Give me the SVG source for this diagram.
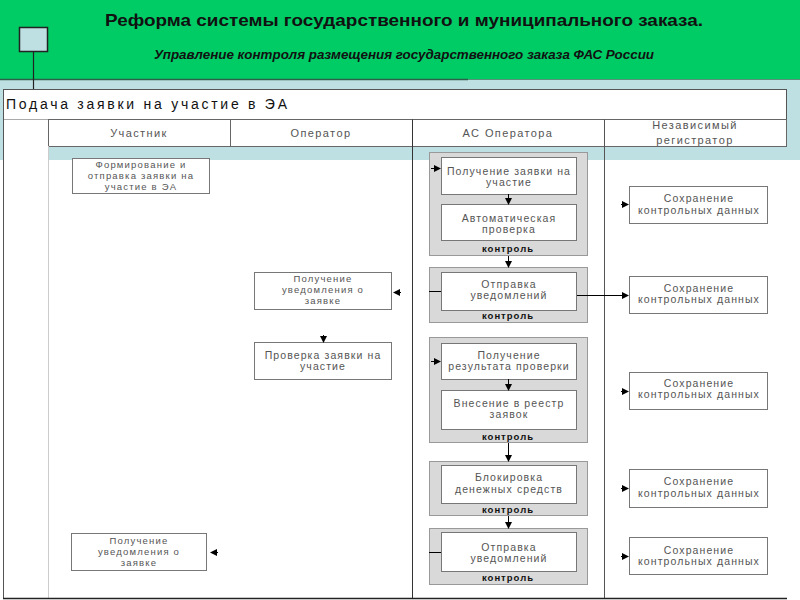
<svg xmlns="http://www.w3.org/2000/svg" width="800" height="600" viewBox="0 0 800 600">
<defs>
<marker id="ah" markerWidth="7" markerHeight="7" refX="6" refY="3.5" orient="auto" markerUnits="userSpaceOnUse">
<path d="M0,0 L7,3.5 L0,7 Z" fill="#000"/>
</marker>
<style>
.bx{fill:#fff;stroke:#777;stroke-width:1}
.ct{fill:#d9d9d9;stroke:#999;stroke-width:1}
.t{font-family:"Liberation Sans",Arial,sans-serif;font-size:10.5px;fill:#555;letter-spacing:1.1px;text-anchor:middle}
.t3{font-family:"Liberation Sans",Arial,sans-serif;font-size:9.5px;fill:#555;letter-spacing:1.2px;text-anchor:middle}
.h{font-family:"Liberation Sans",Arial,sans-serif;font-size:11px;fill:#555;letter-spacing:1.4px;text-anchor:middle}
.k{font-family:"Liberation Sans",Arial,sans-serif;font-size:9.5px;font-weight:bold;fill:#111;letter-spacing:1px;text-anchor:middle}
.ln{stroke:#000;stroke-width:1;fill:none}
.ar{stroke:#000;stroke-width:1;fill:none;marker-end:url(#ah)}
</style>
</defs>
<!-- background -->
<rect x="0" y="0" width="800" height="600" fill="#fff"/>
<rect x="0" y="0" width="800" height="79" fill="#00cc66"/>
<rect x="0" y="79" width="800" height="81" fill="#bfe0e3"/>
<line x1="0" y1="79.5" x2="800" y2="79.5" stroke="#5a8f7a" stroke-width="1"/>
<line x1="0" y1="79.5" x2="468" y2="79.5" stroke="#2f5f4a" stroke-width="1.5"/>
<text x="404" y="26" font-family="Liberation Sans,Arial,sans-serif" font-size="17" font-weight="bold" fill="#111" text-anchor="middle" textLength="598" lengthAdjust="spacingAndGlyphs">Реформа системы государственного и муниципального заказа.</text>
<text x="404" y="59" font-family="Liberation Sans,Arial,sans-serif" font-size="12" font-weight="bold" font-style="italic" fill="#111" text-anchor="middle" textLength="500" lengthAdjust="spacingAndGlyphs">Управление контроля размещения государственного заказа ФАС России</text>
<g id="marker-square">
<rect x="19.5" y="27.5" width="28" height="24" fill="#bfe0e3" stroke="#222" stroke-width="1.5"/>
<line x1="33.5" y1="52" x2="33.5" y2="89" stroke="#222" stroke-width="1.2"/>
</g>
<!-- table -->
<g id="table">
<rect x="3.5" y="89.5" width="783" height="30" fill="#fff" stroke="#555"/>
<text x="6" y="109" font-family="Liberation Sans,Arial,sans-serif" font-size="14" fill="#111" textLength="281" lengthAdjust="spacing">Подача заявки на участие в ЭА</text>
<rect x="3.5" y="119.5" width="45" height="478" fill="#fff" stroke="none"/>
<rect x="48.5" y="119.5" width="738" height="27" fill="#fff" stroke="#666"/>
<rect x="48" y="160" width="752" height="438" fill="#fff"/>
<line x1="230.5" y1="119.5" x2="230.5" y2="146.5" stroke="#666"/>
<line x1="412.5" y1="119.5" x2="412.5" y2="598" stroke="#333"/>
<line x1="604.5" y1="119.5" x2="604.5" y2="598" stroke="#555"/>
<line x1="48.5" y1="146" x2="48.5" y2="598" stroke="#ccc"/>
<line x1="3.5" y1="119" x2="3.5" y2="598" stroke="#555"/>
<line x1="3" y1="598.5" x2="787" y2="598.5" stroke="#222" stroke-width="1.5"/>
<text class="h" x="139" y="137">Участник</text>
<text class="h" x="321" y="137">Оператор</text>
<text class="h" x="508" y="137">АС Оператора</text>
<text class="h" x="695" y="129">Независимый</text>
<text class="h" x="695" y="144">регистратор</text>
</g>
<!-- participant -->
<g id="n-form">
<rect class="bx" x="72.5" y="158.5" width="137" height="35"/>
<text class="t3" x="141" y="168">Формирование и</text>
<text class="t3" x="141" y="179">отправка заявки на</text>
<text class="t3" x="141" y="190">участие в ЭА</text>
</g>
<g id="n-part-notice">
<rect class="bx" x="71.5" y="533.5" width="135" height="37"/>
<text class="t3" x="139" y="544">Получение</text>
<text class="t3" x="139" y="555">уведомления о</text>
<text class="t3" x="139" y="566">заявке</text>
</g>
<!-- operator -->
<g id="n-op-notice">
<rect class="bx" x="254.5" y="272.5" width="137" height="37"/>
<text class="t3" x="323" y="282">Получение</text>
<text class="t3" x="323" y="293">уведомления о</text>
<text class="t3" x="323" y="304">заявке</text>
</g>
<g id="n-op-check">
<rect class="bx" x="254.5" y="342.5" width="137" height="37"/>
<text class="t" x="323" y="359">Проверка заявки на</text>
<text class="t" x="323" y="370">участие</text>
</g>
<!-- AS operator -->
<g id="c1">
<rect class="ct" x="429.5" y="152.5" width="158" height="103"/>
<text class="k" x="508" y="252">контроль</text>
</g>
<g id="n-receive">
<rect class="bx" x="441.5" y="157.5" width="135" height="37"/>
<text class="t" x="509" y="175">Получение заявки на</text>
<text class="t" x="509" y="186">участие</text>
</g>
<g id="n-auto">
<rect class="bx" x="441.5" y="204.5" width="135" height="36"/>
<text class="t" x="509" y="222">Автоматическая</text>
<text class="t" x="509" y="233">проверка</text>
</g>
<g id="c2">
<rect class="ct" x="429.5" y="267.5" width="158" height="55"/>
<text class="k" x="508" y="318.5">контроль</text>
</g>
<g id="n-send1">
<rect class="bx" x="441.5" y="272.5" width="135" height="38"/>
<text class="t" x="509" y="288">Отправка</text>
<text class="t" x="509" y="299">уведомлений</text>
</g>
<g id="c3">
<rect class="ct" x="429.5" y="337.5" width="158" height="105"/>
<text class="k" x="508" y="440">контроль</text>
</g>
<g id="n-result">
<rect class="bx" x="441.5" y="343.5" width="135" height="36"/>
<text class="t" x="509" y="359">Получение</text>
<text class="t" x="509" y="370">результата проверки</text>
</g>
<g id="n-register">
<rect class="bx" x="441.5" y="390.5" width="135" height="39"/>
<text class="t" x="509" y="407">Внесение в реестр</text>
<text class="t" x="509" y="418">заявок</text>
</g>
<g id="c4">
<rect class="ct" x="429.5" y="461.5" width="158" height="54"/>
<text class="k" x="508" y="512.5">контроль</text>
</g>
<g id="n-block">
<rect class="bx" x="441.5" y="465.5" width="135" height="38"/>
<text class="t" x="509" y="481">Блокировка</text>
<text class="t" x="509" y="493">денежных средств</text>
</g>
<g id="c5">
<rect class="ct" x="429.5" y="528.5" width="158" height="56"/>
<text class="k" x="508" y="581">контроль</text>
</g>
<g id="n-send2">
<rect class="bx" x="441.5" y="532.5" width="135" height="39"/>
<text class="t" x="509" y="551">Отправка</text>
<text class="t" x="509" y="562">уведомлений</text>
</g>
<!-- registrar -->
<g id="n-save1">
<rect class="bx" x="629.5" y="186.5" width="138" height="37"/>
<text class="t" x="699" y="202">Сохранение</text>
<text class="t" x="699" y="214">контрольных данных</text>
</g>
<g id="n-save2">
<rect class="bx" x="629.5" y="276.5" width="138" height="37"/>
<text class="t" x="699" y="292">Сохранение</text>
<text class="t" x="699" y="303">контрольных данных</text>
</g>
<g id="n-save3">
<rect class="bx" x="629.5" y="372.5" width="138" height="37"/>
<text class="t" x="699" y="387">Сохранение</text>
<text class="t" x="699" y="398">контрольных данных</text>
</g>
<g id="n-save4">
<rect class="bx" x="629.5" y="469.5" width="138" height="38"/>
<text class="t" x="699" y="485">Сохранение</text>
<text class="t" x="699" y="497">контрольных данных</text>
</g>
<g id="n-save5">
<rect class="bx" x="629.5" y="537.5" width="138" height="37"/>
<text class="t" x="699" y="554">Сохранение</text>
<text class="t" x="699" y="565">контрольных данных</text>
</g>
<!-- connectors -->
<g id="connectors">
<line class="ar" x1="431" y1="168.5" x2="440" y2="168.5"/>
<line class="ar" x1="508.5" y1="194" x2="508.5" y2="204"/>
<line class="ar" x1="508.5" y1="256" x2="508.5" y2="267"/>
<line class="ln" x1="429" y1="291.5" x2="441" y2="291.5" stroke="#666"/>
<line class="ar" x1="577" y1="295.5" x2="628" y2="295.5"/>
<line class="ar" x1="401" y1="292.5" x2="394" y2="292.5"/>
<line class="ar" x1="323.5" y1="335" x2="323.5" y2="342"/>
<line class="ar" x1="431" y1="361.5" x2="440" y2="361.5"/>
<line class="ar" x1="508.5" y1="379" x2="508.5" y2="390"/>
<line class="ar" x1="508.5" y1="443" x2="508.5" y2="461"/>
<line class="ar" x1="508.5" y1="516" x2="508.5" y2="528"/>
<line class="ln" x1="429" y1="552.5" x2="441" y2="552.5" stroke="#666"/>
<line class="ar" x1="621" y1="204.5" x2="628" y2="204.5"/>
<line class="ar" x1="621" y1="391.5" x2="628" y2="391.5"/>
<line class="ar" x1="621" y1="488.5" x2="628" y2="488.5"/>
<line class="ar" x1="621" y1="556.5" x2="628" y2="556.5"/>
<line class="ar" x1="218" y1="552.5" x2="211" y2="552.5"/>
</g>
</svg>
